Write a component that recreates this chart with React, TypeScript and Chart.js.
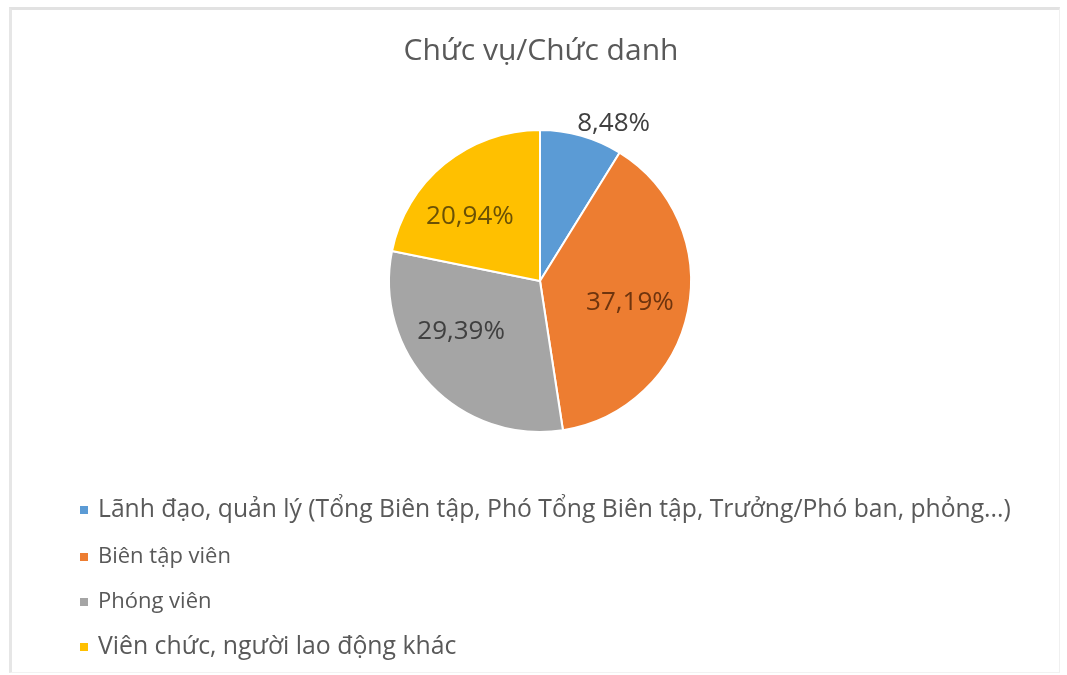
import React, { useEffect, useRef } from "react";
import { Chart, registerables } from "chart.js";

Chart.register(...registerables);

const title = "Chức vụ/Chức danh";
const categories = [
  "Lãnh đạo, quản lý (Tổng Biên tập, Phó Tổng Biên tập, Trưởng/Phó ban, phỏng...)",
  "Biên tập viên",
  "Phóng viên",
  "Viên chức, người lao động khác",
];
const values = [8.48, 37.19, 29.39, 20.94];
const colors = ["#5B9BD5", "#ED7D31", "#A5A5A5", "#FFC000"];
const labelColors = ["#404040", "#6E340E", "#404040", "#6B5105"];
const legendFontSizes = [24.7, 22, 22, 24.8];
// label placement: fraction of radius and angular offset (radians) from slice mid-angle
const labelRadiusFrac = [1.02, 0.613, 0.622, 0.628];
const labelAngleOffset = [0, 0.0375, 0.188, -0.146];

const FONT = "'Open Sans', 'Noto Sans', sans-serif";

const fmt = (v: number) => v.toFixed(2).replace(".", ",") + "%";

const overlayPlugin = {
  id: "overlay",
  afterDraw(chart: any) {
    const ctx = chart.ctx as CanvasRenderingContext2D;
    const meta = chart.getDatasetMeta(0);
    ctx.save();
    // title
    ctx.fillStyle = "#595959";
    ctx.font = `30px ${FONT}`;
    ctx.textAlign = "center";
    ctx.textBaseline = "middle";
    ctx.fillText(title, 541, 51);

    // data labels
    meta.data.forEach((arc: any, i: number) => {
      const { x, y, startAngle, endAngle, outerRadius } = arc.getProps(
        ["x", "y", "startAngle", "endAngle", "outerRadius"],
        true
      );
      const a = (startAngle + endAngle) / 2 + labelAngleOffset[i];
      const r = outerRadius * labelRadiusFrac[i];
      const px = x + Math.cos(a) * r;
      const py = y + Math.sin(a) * r;
      ctx.font = `26px ${FONT}`;
      ctx.fillStyle = labelColors[i];
      ctx.textBaseline = "middle";
      if (labelRadiusFrac[i] > 1) {
        ctx.textAlign = "left";
        ctx.fillText(fmt(values[i]), px - 5, py - 9);
      } else {
        ctx.textAlign = "center";
        ctx.fillText(fmt(values[i]), px, py);
      }
    });

    // legend
    const ys = [510, 557, 602, 647];
    categories.forEach((c, i) => {
      ctx.fillStyle = colors[i];
      ctx.fillRect(80, ys[i] - 4, 8, 8);
      ctx.fillStyle = "#595959";
      ctx.font = `${legendFontSizes[i]}px ${FONT}`;
      ctx.textAlign = "left";
      ctx.textBaseline = "middle";
      ctx.fillText(c, 98, ys[i]);
    });
    ctx.restore();
  },
};

export default function App() {
  const ref = useRef<HTMLCanvasElement>(null);
  useEffect(() => {
    if (!ref.current) return;
    const chart = new Chart(ref.current, {
      type: "pie",
      data: {
        labels: categories,
        datasets: [
          {
            data: values,
            backgroundColor: colors,
            borderColor: "#ffffff",
            borderWidth: 2,
          },
        ],
      },
      options: {
        responsive: false,
        animation: false,
        layout: { padding: { top: 129, bottom: 242, left: 13, right: 0 } },
        plugins: {
          legend: { display: false },
          title: { display: false },
          tooltip: { enabled: false },
        },
      },
      plugins: [overlayPlugin],
    });
    return () => chart.destroy();
  }, []);

  return (
    <div style={{ position: "fixed", left: 0, top: 0, width: 1067, height: 675, background: "#fff" }}>
      <div
        style={{
          position: "absolute",
          left: 9,
          top: 7,
          width: 1051,
          height: 666,
          borderTop: "3px solid #e2e2e2",
          borderLeft: "3px solid #e6e6e6",
          borderRight: "1px solid #f0f0f0",
          borderBottom: "1px solid #f2f2f2",
          boxSizing: "border-box",
        }}
      />
      <canvas ref={ref} width={1067} height={675} style={{ position: "absolute", left: 0, top: 0 }} />
    </div>
  );
}
